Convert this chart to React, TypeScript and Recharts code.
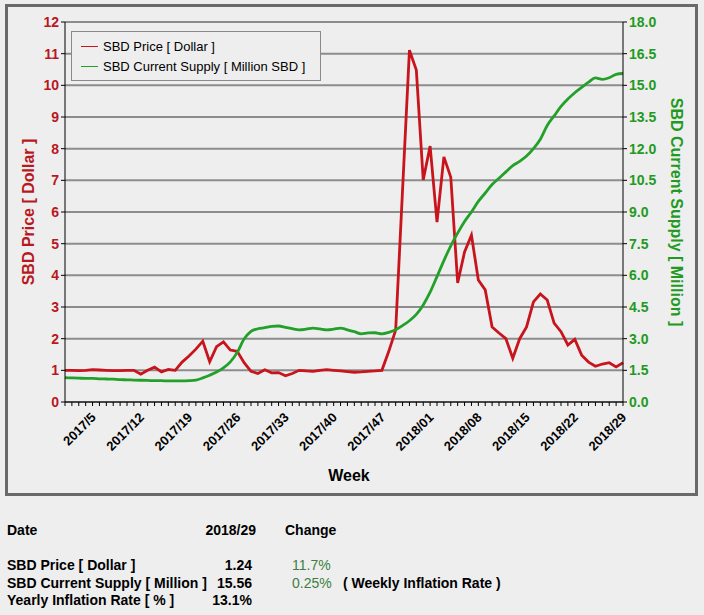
import {CartesianGrid, Legend, Line, LineChart, XAxis, YAxis} from 'recharts'

const WEEKS = [
  '2017/1', '2017/2', '2017/3', '2017/4', '2017/5', '2017/6', '2017/7', '2017/8', '2017/9', '2017/10',
  '2017/11', '2017/12', '2017/13', '2017/14', '2017/15', '2017/16', '2017/17', '2017/18', '2017/19', '2017/20',
  '2017/21', '2017/22', '2017/23', '2017/24', '2017/25', '2017/26', '2017/27', '2017/28', '2017/29', '2017/30',
  '2017/31', '2017/32', '2017/33', '2017/34', '2017/35', '2017/36', '2017/37', '2017/38', '2017/39', '2017/40',
  '2017/41', '2017/42', '2017/43', '2017/44', '2017/45', '2017/46', '2017/47', '2017/48', '2017/49', '2017/50',
  '2017/51', '2017/52', '2017/53', '2018/01', '2018/02', '2018/03', '2018/04', '2018/05', '2018/06', '2018/07',
  '2018/08', '2018/09', '2018/10', '2018/11', '2018/12', '2018/13', '2018/14', '2018/15', '2018/16', '2018/17',
  '2018/18', '2018/19', '2018/20', '2018/21', '2018/22', '2018/23', '2018/24', '2018/25', '2018/26', '2018/27',
  '2018/28', '2018/29',
]

// SBD price in dollars, one value per week
const PRICE = [
  1.0, 1.0, 0.99, 1.0, 1.02, 1.01, 1.0, 0.99, 0.99, 1.0,
  1.0, 0.88, 1.0, 1.1, 0.95, 1.03, 1.0, 1.26, 1.45, 1.67,
  1.92, 1.27, 1.75, 1.9, 1.64, 1.6, 1.24, 0.97, 0.9, 1.02,
  0.92, 0.93, 0.83, 0.9, 1.0, 0.98, 0.97, 1.0, 1.02, 1.0,
  0.98, 0.96, 0.94, 0.95, 0.97, 0.98, 1.0, 1.6, 2.27, 6.7,
  11.11, 10.48, 7.01, 8.08, 5.68, 7.74, 7.1, 3.76, 4.74, 5.27,
  3.85, 3.54, 2.37, 2.18, 2.0, 1.38, 2.0, 2.37, 3.16, 3.41,
  3.22, 2.49, 2.22, 1.8, 1.98, 1.48, 1.26, 1.13, 1.2, 1.24,
  1.11, 1.24,
]

// SBD current supply in million SBD
const SUPPLY = [
  1.15, 1.14, 1.13, 1.12, 1.12, 1.1, 1.09, 1.08, 1.06, 1.05,
  1.04, 1.03, 1.02, 1.01, 1.01, 1.0, 1.0, 1.0, 1.01, 1.04,
  1.14, 1.27, 1.42, 1.62, 1.9, 2.35, 2.98, 3.35, 3.47, 3.52,
  3.58, 3.6, 3.54, 3.47, 3.42, 3.45, 3.5, 3.46, 3.42, 3.45,
  3.5, 3.42, 3.33, 3.23, 3.27, 3.28, 3.23, 3.3, 3.42, 3.62,
  3.85, 4.15, 4.6, 5.2, 5.94, 6.7, 7.4, 8.0, 8.55, 9.0,
  9.5, 9.9, 10.3, 10.6, 10.9, 11.2, 11.4, 11.65, 12.0, 12.45,
  13.1, 13.55, 14.0, 14.35, 14.65, 14.9, 15.15, 15.35, 15.28, 15.36,
  15.52, 15.56,
]

const WEEK_LABELS = ['2017/5', '2017/12', '2017/19', '2017/26', '2017/33', '2017/40', '2017/47', '2018/01', '2018/08', '2018/15', '2018/22', '2018/29']
const PRICE_TICKS = [0, 1, 2, 3, 4, 5, 6, 7, 8, 9, 10, 11, 12]
const SUPPLY_TICKS = [0, 1.5, 3, 4.5, 6, 7.5, 9, 10.5, 12, 13.5, 15, 16.5, 18]

const SUMMARY = [
  { name: 'SBD Price [ Dollar ]', value: '1.24', change: '11.7%', note: '' },
  { name: 'SBD Current Supply [ Million ]', value: '15.56', change: '0.25%', note: '( Weekly Inflation Rate )' },
  { name: 'Yearly Inflation Rate [ % ]', value: '13.1%', change: '', note: '' },
]

const FONT = '"Liberation Sans", Arial, sans-serif'
const RED = '#C8141C'
const RED_TEXT = '#B8181E'
const GREEN = '#22A02A'
const GREEN_TEXT = '#229A22'

const data = WEEKS.map((w, i) => ({ week: w, price: PRICE[i], supply: SUPPLY[i] }))

function WeekTick(props: any) {
  const { x, y, payload } = props
  if (!WEEK_LABELS.includes(payload.value)) return null
  const tx = x + 1
  const ty = y + 7
  return (
    <text x={tx} y={ty} transform={`rotate(-45 ${tx} ${ty})`} textAnchor="end" dominantBaseline="central"
      fontSize={13} fontWeight="bold" fill="#000" fontFamily={FONT}>
      {payload.value}
    </text>
  )
}

function LegendBox() {
  const items = [
    { label: 'SBD Price [ Dollar ]', color: RED },
    { label: 'SBD Current Supply [ Million SBD ]', color: GREEN },
  ]
  return (
    <div style={{ border: '1px solid #8a8a8a', background: '#EEEEEE', padding: '4px 0 4px 9px', width: 250, boxSizing: 'border-box' }}>
      {items.map((it) => (
        <div key={it.label} style={{ display: 'flex', alignItems: 'center', height: 20, fontSize: 13, fontFamily: FONT, color: '#000' }}>
          <div style={{ width: 17, height: 1, background: it.color, marginRight: 5 }} />
          <span>{it.label}</span>
        </div>
      ))}
    </div>
  )
}

export default function App() {
  return (
    <div style={{ position: 'absolute', left: 0, top: 0, width: 704, height: 615, background: '#EEEEEE', fontFamily: FONT, overflow: 'hidden' }}>
      <div style={{ position: 'absolute', left: 5, top: 4, width: 687, height: 486, border: '3px solid #6a6a6a' }} />
      <div style={{ position: 'absolute', left: 0, top: 0 }}>
        <LineChart width={704} height={500} data={data} margin={{ top: 22, right: 39, bottom: 38, left: 23 }}>
          <CartesianGrid vertical={false} stroke="#8c8c8c" strokeWidth={2} yAxisId="price" />
          <XAxis dataKey="week" interval={0} tick={<WeekTick />} tickSize={4} height={60}
            axisLine={{ stroke: '#000' }} tickLine={{ stroke: '#000' }}
            label={(p: any) => (
              <text x={p.viewBox.x + p.viewBox.width / 2 + 5} y={p.viewBox.y + 73} textAnchor="middle" dominantBaseline="central"
                fontSize={16} fontWeight="bold" fill="#000" fontFamily={FONT}>Week</text>
            )} />
          <YAxis yAxisId="price" domain={[0, 12]} ticks={PRICE_TICKS} interval={0} width={42} tickSize={4}
            axisLine={{ stroke: '#000' }} tickLine={{ stroke: '#000' }}
            tick={{ fill: RED_TEXT, fontSize: 14, fontWeight: 'bold', fontFamily: FONT }}
            label={(p: any) => (
              <text x={28} y={p.viewBox.y + p.viewBox.height / 2} transform={`rotate(-90 28 ${p.viewBox.y + p.viewBox.height / 2})`}
                textAnchor="middle" dominantBaseline="central" fontSize={16} fontWeight="bold" fill={RED_TEXT} fontFamily={FONT}>
                SBD Price [ Dollar ]
              </text>
            )} />
          <YAxis yAxisId="supply" orientation="right" domain={[0, 18]} ticks={SUPPLY_TICKS} interval={0} width={42} tickSize={4}
            axisLine={{ stroke: '#000' }} tickLine={{ stroke: '#000' }}
            tickFormatter={(v: number) => v.toFixed(1)}
            tick={{ fill: GREEN_TEXT, fontSize: 14, fontWeight: 'bold', fontFamily: FONT }}
            label={(p: any) => (
              <text x={676} y={p.viewBox.y + p.viewBox.height / 2} transform={`rotate(90 676 ${p.viewBox.y + p.viewBox.height / 2})`}
                textAnchor="middle" dominantBaseline="central" fontSize={16} fontWeight="bold" fill={GREEN_TEXT} fontFamily={FONT}>
                SBD Current Supply [ Million ]
              </text>
            )} />
          <Legend layout="vertical" align="center" verticalAlign="middle" content={<LegendBox />}
            wrapperStyle={{ left: 71, top: 31, width: 250, height: 48 }} />
          <Line yAxisId="price" dataKey="price" name="SBD Price [ Dollar ]" type="linear" stroke={RED} strokeWidth={2.8}
            dot={false} isAnimationActive={false} />
          <Line yAxisId="supply" dataKey="supply" name="SBD Current Supply [ Million SBD ]" type="monotone" stroke={GREEN} strokeWidth={2.8}
            dot={false} isAnimationActive={false} />
        </LineChart>
      </div>
      <div style={{ position: 'absolute', left: 0, top: 522, width: 704, fontSize: 14, fontWeight: 'bold', color: '#000' }}>
        <div style={{ position: 'absolute', left: 7, top: 0 }}>Date</div>
        <div style={{ position: 'absolute', left: 150, width: 106, top: 0, textAlign: 'right' }}>2018/29</div>
        <div style={{ position: 'absolute', left: 285, top: 0 }}>Change</div>
        {SUMMARY.map((r, i) => (
          <div key={r.name} style={{ position: 'absolute', left: 0, top: 35 + i * 17.5, width: 704 }}>
            <div style={{ position: 'absolute', left: 7 }}>{r.name}</div>
            <div style={{ position: 'absolute', left: 150, width: 102, textAlign: 'right' }}>{r.value}</div>
            <div style={{ position: 'absolute', left: 292, color: '#3E7E3E', fontWeight: 'normal' }}>{r.change}</div>
            <div style={{ position: 'absolute', left: 343 }}>{r.note}</div>
          </div>
        ))}
      </div>
    </div>
  )
}
